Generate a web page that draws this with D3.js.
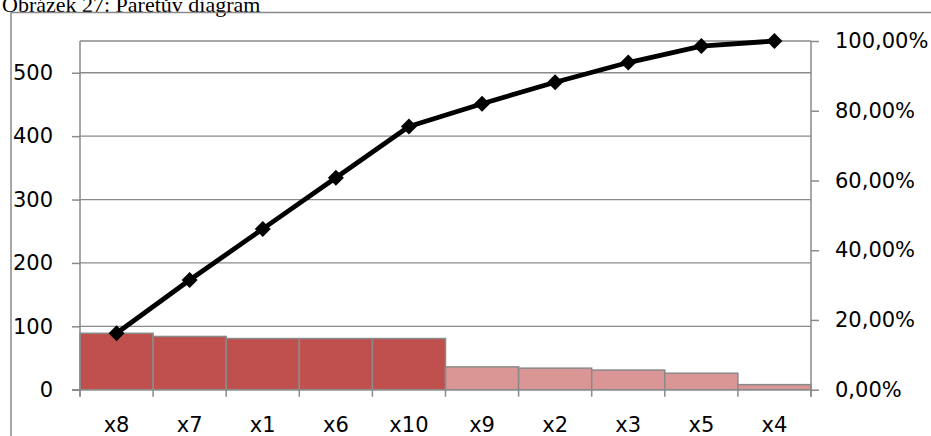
<!DOCTYPE html>
<html>
<head>
<meta charset="utf-8">
<script src="https://cdn.jsdelivr.net/npm/d3@7"></script>
<style>
  html, body { margin: 0; padding: 0; background: #fff; }
  svg { display: block; }
</style>
</head>
<body>
<svg id="chart" width="931" height="436"></svg>
<script>
// ---- data ----
const title = "Obrázek 27: Paretův diagram";
const categories = ["x8", "x7", "x1", "x6", "x10", "x9", "x2", "x3", "x5", "x4"];
const values = [89, 84, 80.7, 80.7, 80.7, 36, 34, 31, 26, 8];
const groupA = [true, true, true, true, true, false, false, false, false, false];
const leftTicks = [0, 100, 200, 300, 400, 500];
const rightTicks = [0, 0.2, 0.4, 0.6, 0.8, 1.0];

// ---- derived ----
const total = d3.sum(values);
let run = 0;
const cumulative = values.map(v => (run += v) / total);

const svg = d3.select("#chart");
const W = 931, H = 436;
const x0 = 80, x1 = 811, yTop = 41, yBot = 389.7;

const font = "'DejaVu Sans', sans-serif";
const fs = 21;
const gray = "#8a8a8a";

// title (partially cut at top, as in the reference)
svg.append("text")
  .attr("x", 2).attr("y", 12)
  .attr("font-family", "'Liberation Serif', 'Times New Roman', serif")
  .attr("font-size", 22)
  .attr("fill", "#000")
  .text(title);

// outer frame
svg.append("path")
  .attr("d", `M11,${H + 2} L11,12.5 L${W + 2},12.5`)
  .attr("fill", "none").attr("stroke", gray).attr("stroke-width", 1.5);

const x = d3.scaleBand().domain(categories).range([x0, x1]).padding(0);
const y = d3.scaleLinear().domain([0, total]).range([yBot, yTop]);
const yp = d3.scaleLinear().domain([0, 1]).range([yBot, yTop]);

// gridlines
svg.append("g").selectAll("line")
  .data(leftTicks.filter(t => t > 0))
  .join("line")
  .attr("x1", x0).attr("x2", x1)
  .attr("y1", d => y(d)).attr("y2", d => y(d))
  .attr("stroke", gray).attr("stroke-width", 1.3);

// top border of plot area
svg.append("line")
  .attr("x1", x0).attr("x2", x1).attr("y1", yTop).attr("y2", yTop)
  .attr("stroke", gray).attr("stroke-width", 1.3);

// bars
svg.append("g").selectAll("rect")
  .data(categories)
  .join("rect")
  .attr("x", d => x(d))
  .attr("width", x.bandwidth())
  .attr("y", (d, i) => y(values[i]))
  .attr("height", (d, i) => yBot - y(values[i]))
  .attr("fill", (d, i) => groupA[i] ? "#C0504D" : "#D99694")
  .attr("stroke", gray).attr("stroke-width", 1.5);

// left axis
const gL = svg.append("g").attr("transform", `translate(${x0},0)`)
  .call(d3.axisLeft(y).tickValues(leftTicks).tickSize(8).tickPadding(19).tickFormat(d3.format("d")));
// right axis
const gR = svg.append("g").attr("transform", `translate(${x1},0)`)
  .call(d3.axisRight(yp).tickValues(rightTicks).tickSize(8).tickPadding(16)
    .tickFormat(d => d3.format(".2f")(d * 100).replace(".", ",") + "%"));
// bottom axis (ticks at band boundaries)
const gB = svg.append("g").attr("transform", `translate(0,${yBot})`)
  .call(d3.axisBottom(x).tickSize(0).tickPadding(27));

[gL, gR, gB].forEach(g => {
  g.select(".domain").attr("stroke", gray).attr("stroke-width", 1.5);
  g.selectAll(".tick line").attr("stroke", gray).attr("stroke-width", 1.5);
  g.selectAll("text").attr("font-family", font).attr("font-size", fs).attr("fill", "#000");
});
gL.select(".domain").attr("d", `M0,${yTop}V${yBot + 7}`);
gR.select(".domain").attr("d", `M0,${yTop}V${yBot + 7}`);
gB.select(".domain").attr("d", `M${x0 - 8},0H${x1}`);

// category boundary ticks
const bounds = categories.map(c => x(c)).concat([x1]);
svg.append("g").selectAll("line")
  .data(bounds)
  .join("line")
  .attr("x1", d => d).attr("x2", d => d)
  .attr("y1", yBot).attr("y2", yBot + 7)
  .attr("stroke", gray).attr("stroke-width", 1.5);

// cumulative line
const cx = d => x(d) + x.bandwidth() / 2;
const line = d3.line().x((d, i) => cx(categories[i])).y(d => yp(d));
svg.append("path")
  .datum(cumulative)
  .attr("d", line)
  .attr("fill", "none").attr("stroke", "#000").attr("stroke-width", 4.8)
  .attr("stroke-linejoin", "round");

// diamond markers
const r = 8;
svg.append("g").selectAll("path")
  .data(cumulative)
  .join("path")
  .attr("transform", (d, i) => `translate(${cx(categories[i])},${yp(d)})`)
  .attr("d", `M0,${-r}L${r},0L0,${r}L${-r},0Z`)
  .attr("fill", "#000");
</script>
</body>
</html>
